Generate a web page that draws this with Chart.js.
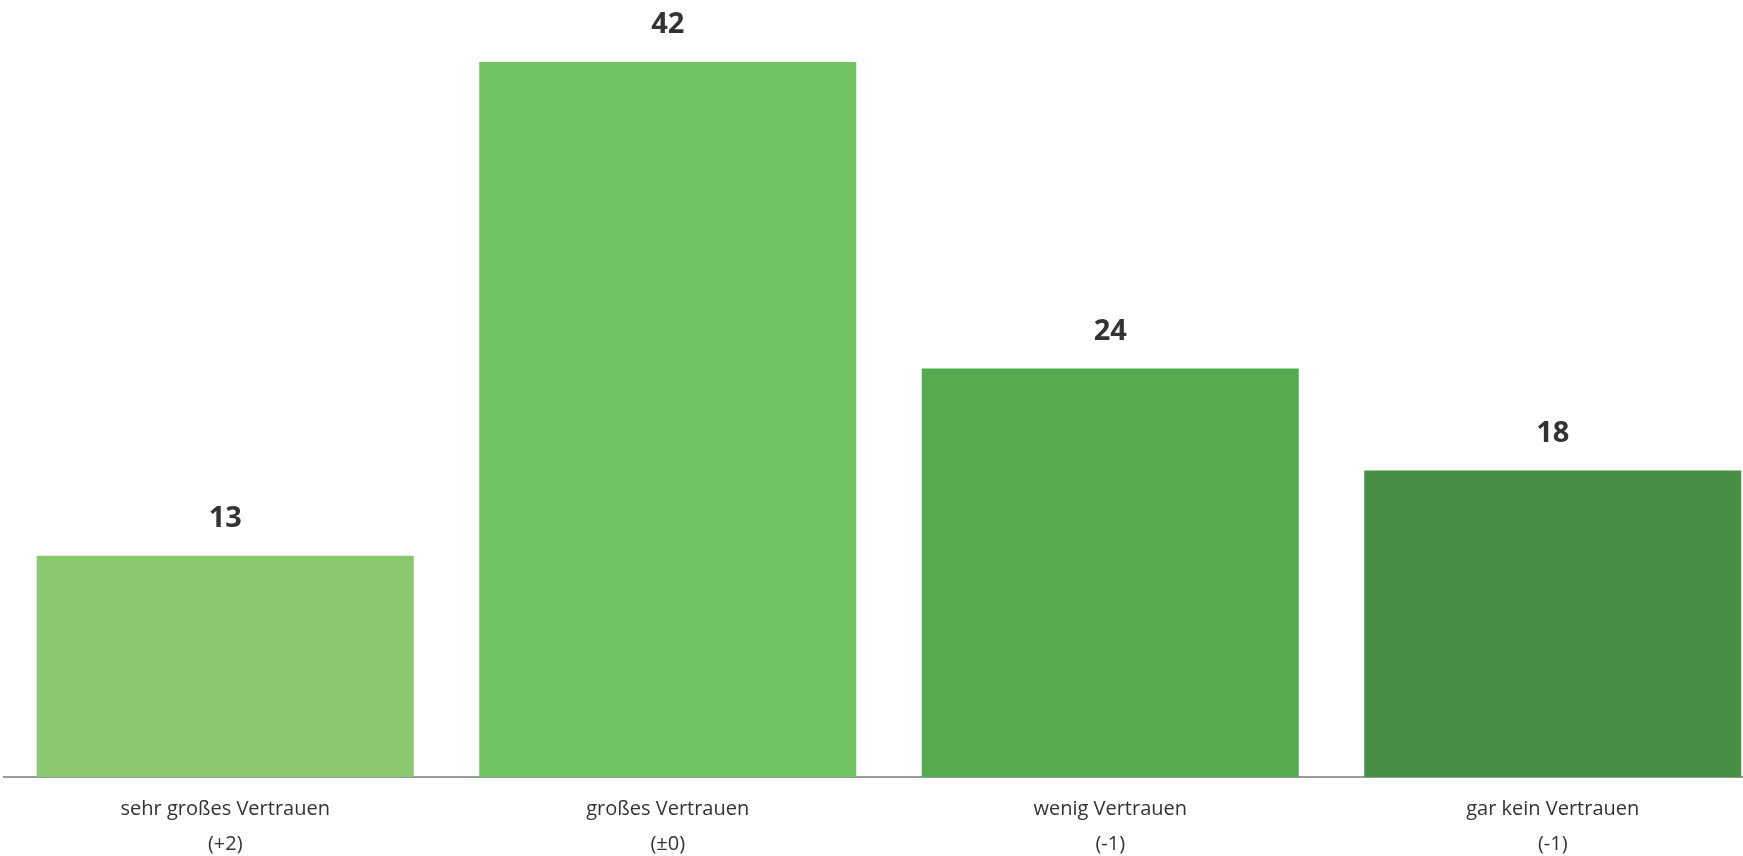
<!DOCTYPE html>
<html>
<head>
<meta charset="utf-8">
<script src="https://cdn.jsdelivr.net/npm/chart.js@4.4.1/dist/chart.umd.min.js"></script>
<style>
  html, body { margin: 0; padding: 0; background: #fff; overflow: hidden; }
  #wrap { position: absolute; left: 0; top: 0; width: 1778px; height: 869px; }
</style>
</head>
<body>
<div id="wrap"><canvas id="c" width="1778" height="869"></canvas></div>
<script>
const categories = [
  ["sehr großes Vertrauen", "(+2)"],
  ["großes Vertrauen", "(±0)"],
  ["wenig Vertrauen", "(-1)"],
  ["gar kein Vertrauen", "(-1)"]
];
const values = [13, 42, 24, 18];
const barColors = ["#8AC86F", "#71C262", "#56AB50", "#468F43"];

const valueLabels = {
  id: 'valueLabels',
  afterDatasetsDraw(chart) {
    const ctx = chart.ctx;
    const meta = chart.getDatasetMeta(0);
    ctx.save();
    ctx.font = "bold 29px 'Open Sans', sans-serif";
    ctx.fillStyle = "#333333";
    ctx.textAlign = "center";
    ctx.textBaseline = "middle";
    meta.data.forEach((bar, i) => {
      ctx.fillText(String(values[i]), bar.x, bar.y - 37);
    });
    ctx.restore();
  }
};

new Chart(document.getElementById('c'), {
  type: 'bar',
  data: {
    labels: categories,
    datasets: [{
      data: values,
      backgroundColor: barColors,
      borderWidth: 0,
      categoryPercentage: 1.0,
      barPercentage: 0.852
    }]
  },
  options: {
    responsive: false,
    animation: false,
    layout: { padding: { left: 4, right: 4, top: 11, bottom: 0 } },
    plugins: {
      legend: { display: false },
      tooltip: { enabled: false }
    },
    scales: {
      x: {
        grid: { display: false },
        border: { display: true, color: '#999999', width: 2 },
        ticks: {
          color: '#333333',
          padding: 7,
          maxRotation: 0,
          autoSkip: false,
          font: { family: "'Open Sans', sans-serif", size: 20, lineHeight: 35 / 20 }
        }
      },
      y: {
        display: false,
        min: 0,
        max: 45
      }
    }
  },
  plugins: [valueLabels]
});
</script>
</body>
</html>
